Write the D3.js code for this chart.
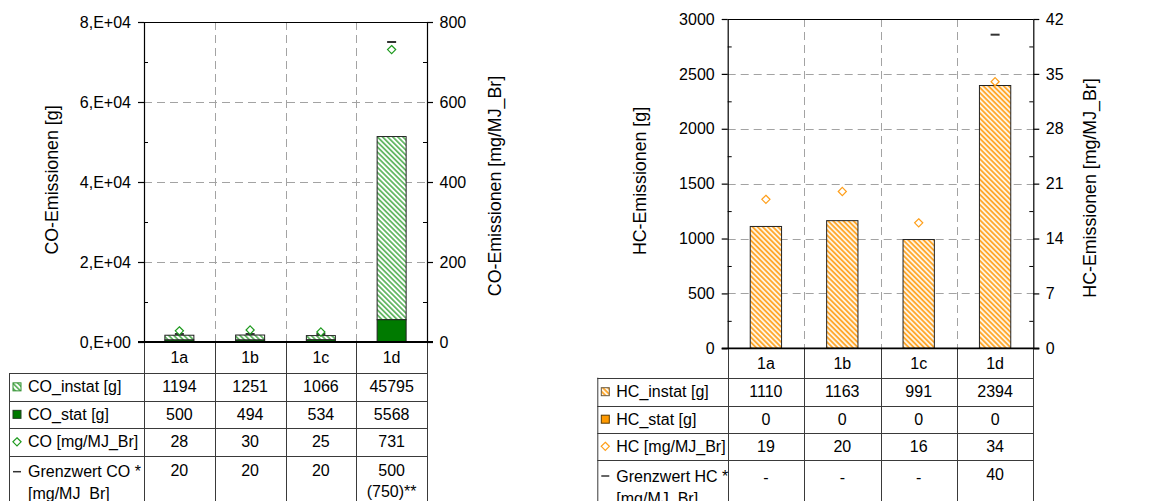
<!DOCTYPE html>
<html>
<head>
<meta charset="utf-8">
<script src="https://cdn.jsdelivr.net/npm/d3@7"></script>
<style>
  html, body { margin: 0; padding: 0; background: #fff; }
  svg { display: block; font-family: "Liberation Sans", Arial, sans-serif; }
</style>
</head>
<body>
<svg id="chart" width="1164" height="501"></svg>
<script>
// ---- data ----
const categories = ["1a", "1b", "1c", "1d"];

// CO emissions
const coInstat = [1194, 1251, 1066, 45795];      // g
const coStat = [500, 494, 534, 5568];            // g
const coSpecific = [28, 30, 25, 731];            // mg/MJ_Br
const coLimit = [20, 20, 20, 750];               // mg/MJ_Br (marker)
const coLimitText = [["20"], ["20"], ["20"], ["500", "(750)**"]];
const coLeftTicks = [0, 20000, 40000, 60000, 80000];
const coLeftTickLabels = ["0,E+00", "2,E+04", "4,E+04", "6,E+04", "8,E+04"];
const coRightTicks = [0, 200, 400, 600, 800];

// HC emissions
const hcInstat = [1110, 1163, 991, 2394];        // g
const hcStat = [0, 0, 0, 0];                     // g
const hcSpecific = [19, 20, 16, 34];             // mg/MJ_Br
const hcLimit = [null, null, null, 40];          // mg/MJ_Br (marker)
const hcLimitText = [["-"], ["-"], ["-"], ["40"]];
const hcLeftTicks = [0, 500, 1000, 1500, 2000, 2500, 3000];
const hcRightTicks = [0, 7, 14, 21, 28, 35, 42];

// ---- drawing ----
const svg = d3.select("#chart");
const FONT = 16;
const TITLE_FONT = 17.8;
const defs = svg.append("defs");

function hatch(id, stripe, bg) {
  const p = defs.append("pattern")
    .attr("id", id)
    .attr("patternUnits", "userSpaceOnUse")
    .attr("width", 3.6).attr("height", 3.6)
    .attr("patternTransform", "rotate(-45)");
  p.append("rect").attr("width", 3.6).attr("height", 3.6).attr("fill", bg);
  p.append("rect").attr("width", 1.8).attr("height", 3.6).attr("fill", stripe);
}
hatch("hatchCO", "#66b866", "#ffffff");
hatch("hatchHC", "#ffa82e", "#fff4e2");

const panels = [
  {
    x0: 144, x1: 427, yTop: 22, yBottom: 342, labelX: 9,
    rows: [342, 373, 400.7, 428, 455.7],
    leftMax: 80000, rightMax: 800,
    leftTicks: coLeftTicks, leftLabels: coLeftTickLabels,
    leftMinor: 10000, rightTicks: coRightTicks,
    leftTitle: "CO-Emissionen [g]", leftTitlePos: [52, 180],
    rightTitle: "CO-Emissionen [mg/MJ_Br]", rightTitlePos: [495, 186],
    instat: coInstat, stat: coStat, specific: coSpecific, limit: coLimit, limitText: coLimitText,
    hatchId: "hatchCO", statColor: "#007a00", statStroke: "#1f3f1f",
    iconStroke: "#2f8f2f", markColor: "#1e9a1e",
    rowLabels: ["CO_instat [g]", "CO_stat [g]", "CO [mg/MJ_Br]", ["Grenzwert CO *", "[mg/MJ_Br]"]]
  },
  {
    x0: 727.7, x1: 1033.3, yTop: 19, yBottom: 348.3, labelX: 597.3,
    rows: [348.3, 377.7, 405.7, 432.7, 460],
    leftMax: 3000, rightMax: 42,
    leftTicks: hcLeftTicks, leftLabels: hcLeftTicks.map(String),
    leftMinor: 250, rightTicks: hcRightTicks,
    leftTitle: "HC-Emissionen [g]", leftTitlePos: [640, 181],
    rightTitle: "HC-Emissionen [mg/MJ_Br]", rightTitlePos: [1090, 188],
    instat: hcInstat, stat: hcStat, specific: hcSpecific, limit: hcLimit, limitText: hcLimitText,
    hatchId: "hatchHC", statColor: "#ff9a00", statStroke: "#5a3a00",
    iconStroke: "#6a5a40", markColor: "#ff9f1a",
    rowLabels: ["HC_instat [g]", "HC_stat [g]", "HC [mg/MJ_Br]", ["Grenzwert HC *", "[mg/MJ_Br]"]]
  }
];

panels.forEach(drawPanel);

function drawPanel(p) {
  const g = svg.append("g");
  const x = d3.scaleBand().domain(categories).range([p.x0, p.x1]).paddingInner(0).paddingOuter(0);
  const yL = d3.scaleLinear().domain([0, p.leftMax]).range([p.yBottom, p.yTop]);
  const yR = d3.scaleLinear().domain([0, p.rightMax]).range([p.yBottom, p.yTop]);
  const bw = x.bandwidth() * 0.41;
  const bx = c => x(c) + (x.bandwidth() - bw) / 2;
  const cx = c => x(c) + x.bandwidth() / 2;

  // dashed grid
  const grid = g.append("g").attr("stroke", "#a3a3a3").attr("stroke-width", 1).attr("stroke-dasharray", "8,5");
  grid.selectAll("line.h").data(p.leftTicks.filter(t => t > 0 && t < p.leftMax)).join("line")
    .attr("x1", p.x0).attr("x2", p.x1)
    .attr("y1", d => Math.round(yL(d)) + 0.5).attr("y2", d => Math.round(yL(d)) + 0.5);
  grid.selectAll("line.v").data(categories.slice(1)).join("line")
    .attr("x1", d => Math.round(x(d)) + 0.5).attr("x2", d => Math.round(x(d)) + 0.5)
    .attr("y1", p.yTop).attr("y2", p.yBottom);

  // top frame
  g.append("line").attr("x1", p.x0).attr("x2", p.x1)
    .attr("y1", Math.round(p.yTop) + 0.5).attr("y2", Math.round(p.yTop) + 0.5)
    .attr("stroke", "#000").attr("stroke-width", 1.2);

  // stacked bars: stationary at bottom, instationary on top
  const bars = g.append("g");
  categories.forEach((c, i) => {
    const s = p.stat[i], ins = p.instat[i];
    bars.append("rect")
      .attr("x", bx(c)).attr("width", bw)
      .attr("y", yL(s + ins)).attr("height", yL(s) - yL(s + ins))
      .attr("fill", `url(#${p.hatchId})`).attr("stroke", "#222").attr("stroke-width", 1);
    bars.append("rect")
      .attr("x", bx(c)).attr("width", bw)
      .attr("y", yL(s)).attr("height", yL(0) - yL(s))
      .attr("fill", p.statColor).attr("stroke", "#222").attr("stroke-width", 1);
  });

  // limit markers
  g.append("g").selectAll("line").data(categories.map((c, i) => [c, p.limit[i]]).filter(d => d[1] != null))
    .join("line")
    .attr("x1", d => cx(d[0]) - 4.5).attr("x2", d => cx(d[0]) + 4.5)
    .attr("y1", d => yR(d[1])).attr("y2", d => yR(d[1]))
    .attr("stroke", "#333").attr("stroke-width", 2);

  // specific emissions (diamonds)
  const dia = d3.symbol().type(d3.symbolDiamond2).size(42);
  g.append("g").selectAll("path").data(categories.map((c, i) => [c, p.specific[i]])).join("path")
    .attr("d", dia)
    .attr("transform", d => `translate(${cx(d[0])},${yR(d[1])})`)
    .attr("fill", "#fff").attr("stroke", p.markColor).attr("stroke-width", 1.2);

  // axes
  const axL = g.append("g").attr("transform", `translate(${p.x0},0)`)
    .call(d3.axisLeft(yL).tickValues(p.leftTicks)
      .tickFormat((d, i) => p.leftLabels[i]).tickSize(6).tickSizeOuter(0).tickPadding(7));
  const minorL = d3.range(0, p.leftMax + 1e-9, p.leftMinor).filter(v => !p.leftTicks.includes(v));
  g.append("g").attr("transform", `translate(${p.x0},0)`)
    .call(d3.axisLeft(yL).tickValues(minorL).tickFormat("").tickSize(-4).tickSizeOuter(0))
    .call(a => a.select(".domain").remove());
  const axR = g.append("g").attr("transform", `translate(${p.x1},0)`)
    .call(d3.axisRight(yR).tickValues(p.rightTicks).tickSize(6).tickSizeOuter(0).tickPadding(6.5));
  const rMinor = p.rightTicks.slice(1).map((t, i) => (t + p.rightTicks[i]) / 2);
  g.append("g").attr("transform", `translate(${p.x1},0)`)
    .call(d3.axisRight(yR).tickValues(rMinor).tickFormat("").tickSize(-4).tickSizeOuter(0))
    .call(a => a.select(".domain").remove());
  [axL, axR].forEach(a => {
    a.selectAll("text").attr("font-size", FONT).attr("font-family", "Liberation Sans, Arial, sans-serif").attr("fill", "#000");
    a.selectAll("line, path").attr("stroke", "#000").attr("stroke-width", 1.2);
  });

  // axis titles
  [[p.leftTitle, p.leftTitlePos], [p.rightTitle, p.rightTitlePos]].forEach(([t, pos]) => {
    g.append("text").text(t)
      .attr("transform", `translate(${pos[0]},${pos[1]}) rotate(-90)`)
      .attr("text-anchor", "middle").attr("dominant-baseline", "central")
      .attr("font-size", TITLE_FONT).attr("fill", "#000");
  });

  // ---- data table ----
  const tb = g.append("g").attr("stroke", "#3a3a3a").attr("stroke-width", 1);
  const bottom = 510;
  p.rows.slice(1).forEach(r => {
    tb.append("line").attr("x1", p.labelX).attr("x2", p.x1)
      .attr("y1", Math.round(r) + 0.5).attr("y2", Math.round(r) + 0.5);
  });
  tb.append("line").attr("x1", p.labelX + 0.5).attr("x2", p.labelX + 0.5).attr("y1", p.rows[1]).attr("y2", bottom);
  categories.forEach(c => {
    const xx = Math.round(x(c)) + 0.5;
    tb.append("line").attr("x1", xx).attr("x2", xx).attr("y1", p.yBottom).attr("y2", bottom);
  });
  tb.append("line").attr("x1", Math.round(p.x1) + 0.5).attr("x2", Math.round(p.x1) + 0.5).attr("y1", p.yBottom).attr("y2", bottom);

  // bottom axis line of plot
  g.append("line").attr("x1", p.x0 - 6).attr("x2", p.x1 + 6)
    .attr("y1", p.yBottom).attr("y2", p.yBottom)
    .attr("stroke", "#000").attr("stroke-width", 1.8);

  const txt = g.append("g").attr("font-size", FONT).attr("fill", "#000");
  const mid = (a, b) => (a + b) / 2;
  // header row
  categories.forEach(c => {
    txt.append("text").text(c).attr("x", cx(c)).attr("y", mid(p.rows[0], p.rows[1]))
      .attr("text-anchor", "middle").attr("dominant-baseline", "central");
  });
  // value rows
  const rowValues = [p.instat, p.stat, p.specific];
  rowValues.forEach((vals, r) => {
    const yc = mid(p.rows[r + 1], p.rows[r + 2]);
    categories.forEach((c, i) => {
      txt.append("text").text(vals[i]).attr("x", cx(c)).attr("y", yc)
        .attr("text-anchor", "middle").attr("dominant-baseline", "central");
    });
    txt.append("text").text(p.rowLabels[r]).attr("x", p.labelX + 19).attr("y", yc)
      .attr("dominant-baseline", "central");
  });
  // limit row
  const yl = p.rows[4] + 14.5;
  categories.forEach((c, i) => {
    p.limitText[i].forEach((s, k) => {
      txt.append("text").text(s).attr("x", cx(c)).attr("y", yl + k * 21.5 + (s === "-" ? 3 : 0))
        .attr("text-anchor", "middle").attr("dominant-baseline", "central");
    });
  });
  p.rowLabels[3].forEach((s, k) => {
    txt.append("text").text(s).attr("x", p.labelX + 19).attr("y", yl + 1.5 + k * 22)
      .attr("dominant-baseline", "central");
  });

  // legend keys
  const ix = p.labelX + 4;
  const y1 = mid(p.rows[1], p.rows[2]), y2 = mid(p.rows[2], p.rows[3]), y3 = mid(p.rows[3], p.rows[4]);
  g.append("rect").attr("x", ix).attr("y", y1 - 4).attr("width", 8).attr("height", 8)
    .attr("fill", `url(#${p.hatchId})`).attr("stroke", p.iconStroke).attr("stroke-width", 1);
  g.append("rect").attr("x", ix).attr("y", y2 - 4).attr("width", 8).attr("height", 8)
    .attr("fill", p.statColor).attr("stroke", p.statStroke).attr("stroke-width", 1);
  g.append("path").attr("d", dia).attr("transform", `translate(${ix + 4},${y3})`)
    .attr("fill", "#fff").attr("stroke", p.markColor).attr("stroke-width", 1.2);
  g.append("line").attr("x1", ix).attr("x2", ix + 8).attr("y1", yl + 1.5).attr("y2", yl + 1.5)
    .attr("stroke", "#333").attr("stroke-width", 1.5);
}
</script>
</body>
</html>
